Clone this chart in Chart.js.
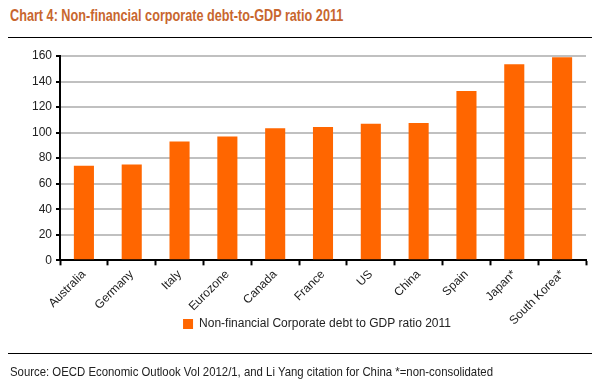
<!DOCTYPE html>
<html>
<head>
<meta charset="utf-8">
<script src="https://cdn.jsdelivr.net/npm/chart.js@4"></script>
<style>
    body { margin: 0; background: #fff; font-family: "Liberation Sans", Arial, sans-serif; }
    #wrap { position: relative; width: 600px; height: 387px; overflow: hidden; }
    #title { position: absolute; left: 10px; top: 6px; font-size: 17px; font-weight: bold; color: #c8662e;
             white-space: nowrap; transform: scaleX(0.745); transform-origin: left top; }
    .rule { position: absolute; left: 8px; width: 584px; height: 1px; background: #000; }
    #source { position: absolute; left: 10px; top: 364px; font-size: 13px; color: #222;
              white-space: nowrap; transform: scaleX(0.875); transform-origin: left top; }
    #chartBox { position: absolute; left: 0; top: 40px; width: 600px; height: 316px; }
</style>
</head>
<body>
<div id="wrap">
    <div id="title">Chart 4: Non-financial corporate debt-to-GDP ratio 2011</div>
    <div class="rule" style="top: 37px;"></div>
    <div id="chartBox"><canvas id="debtChart"></canvas></div>
    <div class="rule" style="top: 353px;"></div>
    <div id="source">Source: OECD Economic Outlook Vol 2012/1, and Li Yang citation for China *=non-consolidated</div>
</div>
<script>
// Data
const countries = ['Australia', 'Germany', 'Italy', 'Eurozone', 'Canada', 'France', 'US', 'China', 'Spain', 'Japan*', 'South Korea*'];
const debtRatio = [74, 75, 93, 97, 103.5, 104.5, 107, 107.5, 132.5, 153.5, 159];
const seriesName = 'Non-financial Corporate debt to GDP ratio 2011';

const labelFont = { family: '"Liberation Sans", Arial, sans-serif', size: 12 };

// Legend sits up beside the rotated labels, like the original
const legendTop = 274;
const legendShift = 24;
const moveLegend = {
    id: 'moveLegend',
    afterLayout(chart) {
        const lg = chart.legend;
        const h = lg.bottom - lg.top;
        lg.top = legendTop;
        lg.bottom = legendTop + h;
        lg.left += legendShift;
        lg.right += legendShift;
    }
};

const ctx = document.getElementById('debtChart').getContext('2d');

new Chart(ctx, {
    type: 'bar',
    data: {
        labels: countries,
        datasets: [{
            label: seriesName,
            data: debtRatio,
            backgroundColor: '#ff6600',
            borderWidth: 0,
            barPercentage: 0.42,
            categoryPercentage: 1
        }]
    },
    options: {
        responsive: true,
        maintainAspectRatio: false,
        animation: false,
        layout: { padding: { left: 0, right: 14, top: 16, bottom: 0 } },
        plugins: {
            legend: {
                position: 'bottom',
                labels: {
                    boxWidth: 10,
                    boxHeight: 10,
                    padding: 4,
                    color: '#222',
                    font: labelFont
                }
            },
            tooltip: { enabled: false }
        },
        scales: {
            y: {
                min: 0,
                max: 160,
                ticks: { stepSize: 20, color: '#222', font: labelFont, padding: 4 },
                grid: { color: '#c0c0c0', lineWidth: 2, tickColor: '#000', tickLength: 4, tickWidth: 2 },
                border: { color: '#000', width: 2 },
                afterFit: function(scale) { scale.width = 60; }
            },
            x: {
                offset: true,
                ticks: { minRotation: 45, maxRotation: 45, color: '#222', font: labelFont, padding: 2 },
                grid: { offset: true, drawOnChartArea: false, tickColor: '#000', tickLength: 5, tickWidth: 2 },
                border: { color: '#000', width: 2 }
            }
        }
    },
    plugins: [moveLegend]
});
</script>
</body>
</html>
